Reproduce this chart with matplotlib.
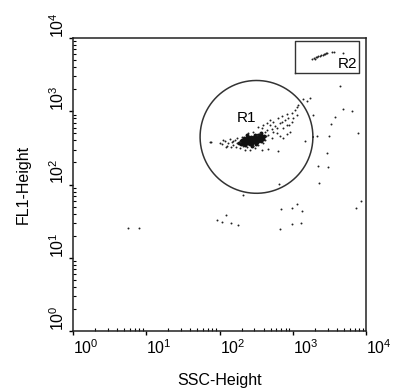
import matplotlib
matplotlib.use("Agg")
import matplotlib.pyplot as plt
import numpy as np

plt.rcParams["font.family"] = ["Liberation Sans", "DejaVu Sans"]
plt.rcParams["mathtext.fontset"] = "custom"
plt.rcParams["mathtext.rm"] = "Liberation Sans"

# events, log10 of SSC-Height and FL1-Height
core_ssc = [2.27, 2.29, 2.29, 2.31, 2.31, 2.33, 2.33, 2.33, 2.35, 2.35, 2.35, 2.37, 2.37,
            2.37, 2.39, 2.39, 2.39, 2.41, 2.41, 2.41, 2.43, 2.43, 2.43, 2.45, 2.45, 2.45,
            2.47, 2.47, 2.47, 2.49, 2.49, 2.49, 2.51, 2.51, 2.51, 2.53, 2.53, 2.53, 2.55,
            2.55, 2.57, 2.57, 2.57, 2.59, 2.59, 2.61, 2.44, 2.38, 2.50, 2.56]
core_fl1 = [2.57, 2.59, 2.55, 2.57, 2.61, 2.55, 2.59, 2.63, 2.57, 2.61, 2.54, 2.59, 2.63,
            2.56, 2.57, 2.61, 2.65, 2.55, 2.59, 2.63, 2.57, 2.61, 2.65, 2.59, 2.63, 2.56,
            2.61, 2.65, 2.58, 2.60, 2.64, 2.67, 2.62, 2.58, 2.66, 2.60, 2.64, 2.68, 2.62,
            2.66, 2.64, 2.68, 2.60, 2.65, 2.62, 2.66, 2.53, 2.67, 2.55, 2.70]

scat_ssc = [1.884, 2.007, 2.039, 2.075, 2.089, 2.121, 2.144, 2.166, 2.189, 2.212, 2.225,
            2.244, 2.053, 2.280, 2.303, 2.348, 2.417, 2.485, 2.576, 2.667, 2.803, 2.153,
            2.107, 2.530, 2.599, 2.644, 2.690, 2.712, 2.735, 2.758, 2.803, 2.826, 2.849,
            2.872, 2.894, 2.926, 2.953, 2.985, 3.008, 3.031, 3.054, 3.076, 2.781, 2.826,
            2.917, 2.963, 2.872, 2.621, 2.667, 2.712, 2.576, 2.644, 2.781, 2.917, 2.985,
            2.553, 2.690, 2.735, 2.849, 2.940, 3.054, 2.280, 2.326, 2.371, 2.462, 2.530,
            2.599, 2.621, 2.635, 2.235, 2.189, 2.394, 2.462, 2.508,
            0.747, 0.905, 1.970, 2.030, 2.085, 2.153, 2.248, 2.325, 2.817, 2.835, 2.990,
            3.054, 3.126, 2.826, 2.990, 3.117, 3.864, 3.936, 3.363, 3.340, 3.477, 3.463,
            3.167, 3.327, 3.495, 3.887, 3.281, 3.518, 3.572, 3.690, 3.813, 3.649, 3.144,
            3.236, 3.190, 1.870]
scat_fl1 = [2.576, 2.572, 2.549, 2.594, 2.517, 2.562, 2.617, 2.576, 2.540, 2.608, 2.508,
            2.562, 2.608, 2.494, 2.654, 2.472, 2.472, 2.494, 2.472, 2.481, 2.462, 2.517,
            2.531, 2.790, 2.813, 2.836, 2.881, 2.754, 2.858, 2.799, 2.904, 2.836, 2.936,
            2.767, 2.881, 2.963, 2.813, 2.981, 2.904, 3.018, 3.063, 3.086, 2.699, 2.663,
            2.690, 2.722, 2.631, 2.722, 2.676, 2.631, 2.767, 2.745, 2.767, 2.813, 2.858,
            2.699, 2.813, 2.722, 2.858, 2.904, 2.949, 2.585, 2.526, 2.517, 2.526, 2.540,
            2.562, 2.608, 2.663, 2.631, 2.599, 2.699, 2.722, 2.676,
            1.406, 1.406, 1.511, 1.492, 1.584, 1.470, 1.443, 1.857, 2.011, 1.661, 1.679,
            1.730, 1.634, 1.393, 1.461, 1.474, 1.679, 1.771, 2.025, 2.257, 2.243, 2.426,
            2.594, 2.667, 2.658, 2.699, 2.949, 2.826, 2.921, 3.035, 2.999, 3.341, 3.163,
            3.185, 3.140, 2.580]

r2_ssc = [3.263, 3.285, 3.300, 3.317, 3.335, 3.350, 3.372, 3.390, 3.410, 3.425, 3.440,
          3.455, 3.470, 3.540, 3.560, 3.690]
r2_fl1 = [3.713, 3.727, 3.720, 3.734, 3.745, 3.748, 3.758, 3.765, 3.772, 3.780, 3.785,
          3.790, 3.800, 3.805, 3.803, 3.800]

# gates (log10 units)
r1_center = (2.505, 2.65)
r1_radius = 0.77
r2_box = (3.03, 3.52, 3.90, 3.96)

fig = plt.figure(figsize=(3.93, 3.89), dpi=100)
ax = fig.add_axes([73 / 393, 1 - 331 / 389, 293 / 393, 293 / 389])

ax.scatter(10 ** np.array(core_ssc), 10 ** np.array(core_fl1), s=8, color="#111111",
           linewidths=0)
ax.scatter(10 ** np.array(scat_ssc), 10 ** np.array(scat_fl1), s=2, color="#222222",
           linewidths=0)
ax.scatter(10 ** np.array(r2_ssc), 10 ** np.array(r2_fl1), s=2, color="#222222",
           linewidths=0)

t = np.linspace(0, 2 * np.pi, 200)
ax.plot(10 ** (r1_center[0] + r1_radius * np.cos(t)),
        10 ** (r1_center[1] + r1_radius * np.sin(t)), color="#333333", lw=1.1)
x0, y0, x1, y1 = r2_box
ax.plot(10 ** np.array([x0, x1, x1, x0, x0]), 10 ** np.array([y0, y0, y1, y1, y0]),
        color="#333333", lw=1.0)

ax.text(10 ** 2.37, 10 ** 2.91, "R1", ha="center", va="center", fontsize=11)
ax.text(10 ** 3.75, 10 ** 3.645, "R2", ha="center", va="center", fontsize=11)

ax.set_xscale("log")
ax.set_yscale("log")
ax.set_xlim(1, 1e4)
ax.set_ylim(1, 1e4)

ticks = [1, 10, 100, 1000, 10000]
labels = [r"$\mathrm{10^{%d}}$" % i for i in range(5)]
ax.set_xticks(ticks)
ax.set_xticklabels(labels, fontsize=11.5)
ax.set_yticks(ticks)
ax.set_yticklabels(labels, fontsize=11.5)
for lab in ax.get_xticklabels():
    lab.set_ha("left")
for lab in ax.get_yticklabels():
    lab.set_rotation(90)
    lab.set_va("bottom")
    lab.set_ha("right")

ax.tick_params(which="major", direction="out", length=3, width=1, pad=2)
ax.tick_params(which="minor", direction="in", length=2, width=0.8)
ax.tick_params(axis="y", which="major", pad=1)

for sp in ax.spines.values():
    sp.set_linewidth(1.1)
    sp.set_color("#222222")

ax.set_xlabel("SSC-Height", fontsize=11.5, labelpad=12)
ax.set_ylabel("FL1-Height", fontsize=11.5, labelpad=13)

fig.savefig("out.png", dpi=100)
